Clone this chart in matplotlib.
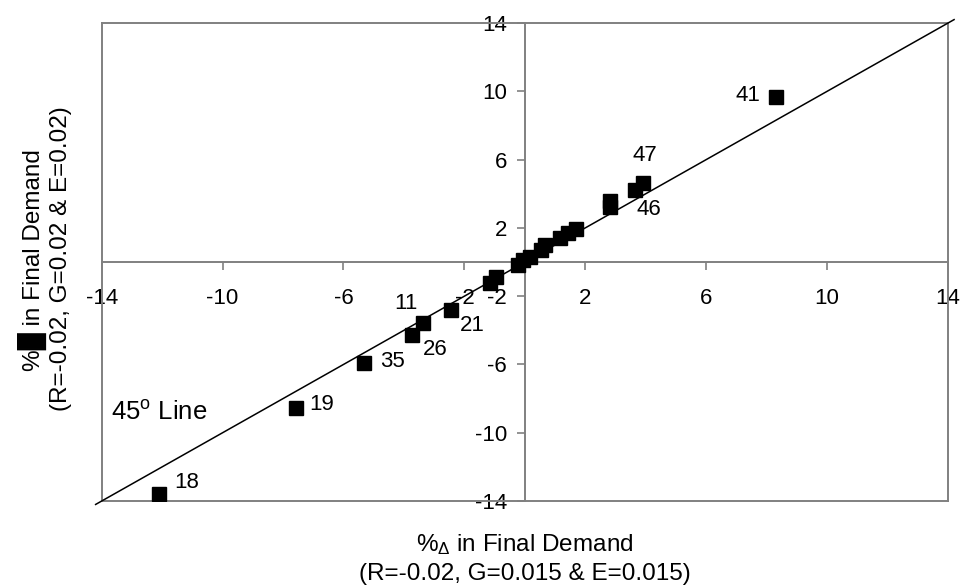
import matplotlib
matplotlib.use("Agg")
import matplotlib.pyplot as plt

plt.rcParams['font.family'] = ['Liberation Sans', 'DejaVu Sans']
plt.rcParams['mathtext.fontset'] = 'custom'
plt.rcParams['mathtext.rm'] = 'Liberation Sans'
plt.rcParams['mathtext.it'] = 'Liberation Sans'

# data: % change in final demand (scenario x vs scenario y)
pts_x = [-12.12, -7.58, -5.33, -3.73, -3.37, -2.43, -1.15, -0.97, -0.22, -0.05,
         0.17, 0.55, 0.66, 1.16, 1.43, 1.69, 2.81, 2.81, 3.64, 3.92, 8.31]
pts_y = [-13.59, -8.53, -5.90, -4.28, -3.55, -2.81, -1.25, -0.90, -0.18, 0.12,
         0.31, 0.70, 1.00, 1.39, 1.68, 1.91, 3.24, 3.60, 4.22, 4.61, 9.68]

line_x = [-14.2, 14.2]
line_y = [-14.2, 14.2]

label_text = ["41", "47", "46", "11", "21", "26", "35", "19", "18"]
label_x = [7.37, 3.97, 4.11, -3.92, -1.73, -2.98, -4.38, -6.71, -11.2]
label_y = [9.78, 6.23, 3.05, -2.42, -3.69, -5.10, -5.80, -8.34, -12.93]

ticks = [-14, -10, -6, -2, 2, 6, 10, 14]
tick_labels = ["-14", "-10", "-6", "-2", "2", "6", "10", "14"]

W, H = 961, 586
fig = plt.figure(figsize=(W / 100, H / 100), dpi=100)
ax = fig.add_axes([0.1058, 0.145, 0.8807, 0.8157])
ax.set_xlim(-14, 14)
ax.set_ylim(-14, 14)

gray = '#808080'
for s in ['top', 'right']:
    ax.spines[s].set_color(gray)
    ax.spines[s].set_linewidth(1.4)
ax.spines['left'].set_position(('data', 0))
ax.spines['bottom'].set_position(('data', 0))
ax.spines['left'].set_color(gray)
ax.spines['bottom'].set_color(gray)
ax.spines['left'].set_linewidth(1.4)
ax.spines['bottom'].set_linewidth(1.4)
# outer frame left / bottom
ax.plot([0, 0], [0, 1], transform=ax.transAxes, color=gray, lw=1.4, clip_on=False)
ax.plot([0, 1], [0, 0], transform=ax.transAxes, color=gray, lw=1.4, clip_on=False)

ax.set_xticks(ticks)
ax.set_xticklabels(tick_labels)
ax.set_yticks(ticks)
ax.set_yticklabels(tick_labels)
ax.tick_params(axis='x', direction='out', length=5.5, width=1.2, color=gray,
               labelsize=16, pad=13)
ax.tick_params(axis='y', direction='out', length=6, width=1.2, color=gray,
               labelsize=16, pad=7)

ax.plot(line_x, line_y, color='black', lw=1.1, clip_on=False, zorder=3)
ax.plot(pts_x, pts_y, linestyle='none', marker='s', markersize=9.5,
        color='black', zorder=4)

for t, x, y in zip(label_text, label_x, label_y):
    ax.text(x, y, t, fontsize=16, ha='center', va='center')

ax.text(-13.69, -8.81, "45$^\\mathrm{o}$ Line", fontsize=18.5, ha='left', va='center')

# x-axis title (two lines)
fig.text(525 / W, 1 - 551 / H, "%$_\\Delta$ in Final Demand",
         fontsize=17.5, ha='center', va='baseline')
fig.text(525 / W, 1 - 580 / H, "(R=-0.02, G=0.015 & E=0.015)",
         fontsize=17.5, ha='center', va='baseline')

# y-axis title (two lines, rotated)
fig.text(40 / W, 1 - 260 / H, "%\u2588 in Final Demand", rotation=90,
         rotation_mode='anchor', fontsize=17.5, ha='center', va='baseline')
fig.text(67 / W, 1 - 259 / H, "(R=-0.02, G=0.02 & E=0.02)", rotation=90,
         rotation_mode='anchor', fontsize=17.5, ha='center', va='baseline')

fig.savefig("out.png", dpi=100)
